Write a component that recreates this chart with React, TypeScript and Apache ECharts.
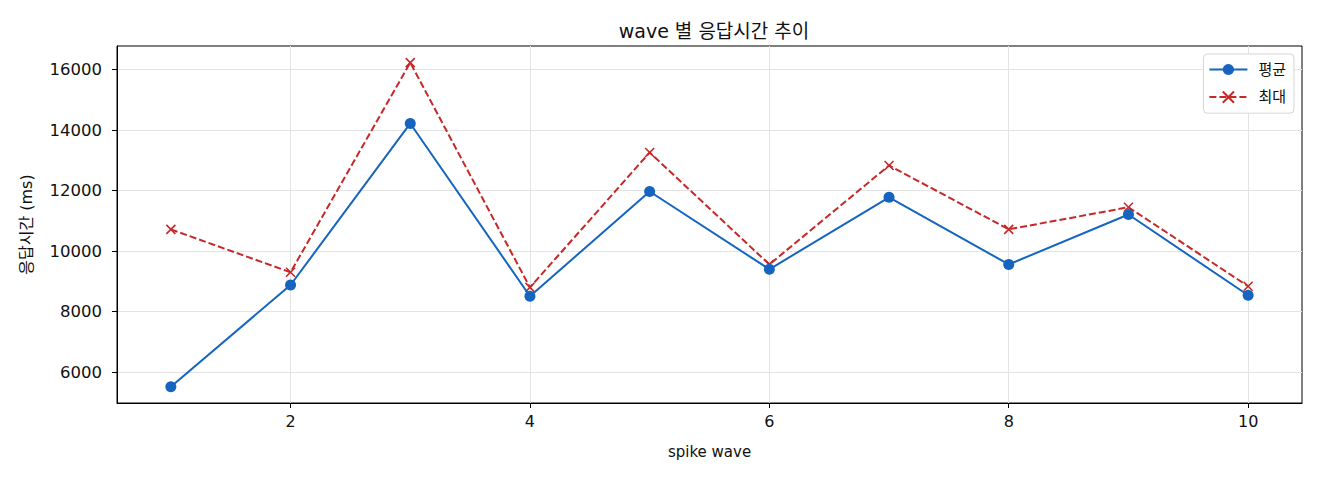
import React, { useEffect, useRef } from "react";
import * as echarts from "echarts";

const waves = [1, 2, 3, 4, 5, 6, 7, 8, 9, 10];
const avgValues = [5520, 8880, 14220, 8510, 11970, 9400, 11780, 9560, 11210, 8540];
const maxValues = [10720, 9300, 16230, 8800, 13260, 9560, 12830, 10720, 11450, 8840];
const xTicks = [2, 4, 6, 8, 10];
const yTicks = [6000, 8000, 10000, 12000, 14000, 16000];

const FONT = "'DejaVu Sans', 'Noto Sans CJK KR', sans-serif";
const BLUE = "#1565c0";
const RED = "#c62828";

export default function App() {
  const ref = useRef<HTMLDivElement>(null);
  useEffect(() => {
    if (!ref.current) return;
    const chart = echarts.init(ref.current, undefined, { renderer: "svg" });
    chart.setOption({
      animation: false,
      backgroundColor: "#fff",
      title: {
        text: "wave 별 응답시간 추이",
        left: 709,
        textAlign: "center",
        top: 16,
        textStyle: { fontFamily: FONT, fontSize: 19, fontWeight: "normal", color: "#111" },
      },
      legend: {
        orient: "vertical",
        right: 26,
        top: 54,
        padding: [8, 8, 8, 5],
        itemGap: 12,
        itemWidth: 38,
        itemHeight: 14,
        backgroundColor: "#fff",
        borderColor: "#d5d5d5",
        borderWidth: 1,
        borderRadius: 4,
        textStyle: { fontFamily: FONT, fontSize: 15, color: "#111", padding: [0, 0, 0, 6] },
        data: ["평균", "최대"],
      },
      grid: {
        left: 117,
        right: 18,
        top: 46,
        bottom: 77,
        show: true,
        borderColor: "#000",
        borderWidth: 1,
        backgroundColor: "transparent",
      },
      xAxis: {
        type: "value",
        min: 0.55,
        max: 10.45,
        name: "spike wave",
        nameLocation: "middle",
        nameGap: 41,
        nameTextStyle: { fontFamily: FONT, fontSize: 15, color: "#111" },
        axisLine: { show: true, lineStyle: { color: "#000", width: 1 } },
        axisTick: { show: true, length: 5, lineStyle: { color: "#000" }, customValues: xTicks },
        axisLabel: { fontFamily: FONT, fontSize: 16, color: "#111", margin: 10, customValues: xTicks },
        splitLine: { show: true, lineStyle: { color: "#e3e3e3", width: 1 } },
      },
      yAxis: {
        type: "value",
        min: 4980,
        max: 16780,
        name: "응답시간 (ms)",
        nameLocation: "middle",
        nameGap: 83,
        nameRotate: 90,
        nameTextStyle: { fontFamily: FONT, fontSize: 16, color: "#111" },
        axisLine: { show: true, lineStyle: { color: "#000", width: 1 } },
        axisTick: { show: true, length: 5, lineStyle: { color: "#000" }, customValues: yTicks },
        axisLabel: {
          fontFamily: FONT,
          fontSize: 16.5,
          color: "#111",
          margin: 15,
          customValues: yTicks,
          formatter: (v: number) => String(v),
        },
        splitLine: { show: true, lineStyle: { color: "#e3e3e3", width: 1 } },
      },
      series: [
        {
          name: "평균",
          type: "line",
          data: waves.map((w, i) => [w, avgValues[i]]),
          symbol: "circle",
          symbolSize: 11,
          color: BLUE,
          itemStyle: { color: BLUE },
          lineStyle: { color: BLUE, width: 2 },
          z: 3,
        },
        {
          name: "최대",
          type: "line",
          data: waves.map((w, i) => [w, maxValues[i]]),
          symbol: "path://M0,0 L10,10 M10,0 L0,10",
          symbolSize: 9,
          color: RED,
          itemStyle: { color: "none", borderColor: RED, borderWidth: 1.6 },
          lineStyle: { color: RED, width: 2, type: [7, 3] },
          z: 2,
        },
      ],
    });
    return () => chart.dispose();
  }, []);
  return (
    <div
      ref={ref}
      style={{ position: "fixed", left: 0, top: 0, width: 1320, height: 480 }}
    />
  );
}
